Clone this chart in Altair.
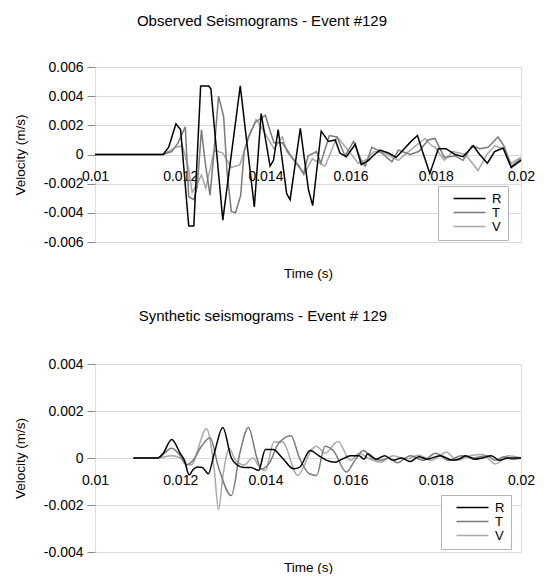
import altair as alt
import pandas as pd

FONT = "Liberation Sans"
SERIES = ["R", "T", "V"]
COLORS = ["#000000", "#7a7a7a", "#a8a8a8"]
X_TICKS = [0.01, 0.012, 0.014, 0.016, 0.018, 0.02]

# ---------------- Observed seismograms (s, m/s) ----------------
obs_R_t = [0.0100, 0.0116, 0.01173, 0.0119, 0.01201, 0.0122, 0.01232, 0.01248, 0.01267, 0.01272,
           0.0130, 0.01341, 0.01374, 0.0139, 0.01411, 0.01419, 0.0143, 0.0145, 0.01458, 0.01482,
           0.01501, 0.01511, 0.01531, 0.01548, 0.01564, 0.01575, 0.0159, 0.01611, 0.01625, 0.01642,
           0.01656, 0.01669, 0.01689, 0.01707, 0.01742, 0.01757, 0.0177, 0.01786, 0.01806, 0.01824,
           0.01845, 0.01864, 0.01888, 0.01903, 0.01921, 0.01938, 0.01958, 0.01977, 0.0200]
obs_R_v = [0.0, 0.0, 0.0005, 0.0021, 0.0017, -0.0049, -0.0049, 0.0047, 0.0047, 0.0045,
           -0.0045, 0.0047, -0.0036, 0.0028, -0.0008, -0.0004, 0.0017, -0.0027, -0.0031, 0.0018,
           -0.0024, -0.0035, 0.0016, 0.0009, 0.0010, 0.0001, -0.00015, 0.0007, -0.0007, -0.0004,
           0.0, 0.0003, 0.0001, -0.0002, 0.0009, 0.0013, 0.0001, -0.0013, 0.0004, 0.0004,
           0.0, -0.00015, 0.0006, 0.0, -0.0006, 0.0002, 0.00045, -0.0009, -0.0004]

obs_T_t = [0.0100, 0.0116, 0.0118, 0.01195, 0.01212, 0.0122, 0.01232, 0.0124, 0.0125, 0.01258,
           0.0127, 0.0128, 0.0129, 0.01302, 0.0131, 0.0132, 0.0133, 0.01342, 0.0135, 0.0136,
           0.01376, 0.0140, 0.01408, 0.0142, 0.0144, 0.0146, 0.0149, 0.0150, 0.0152, 0.0153,
           0.0155, 0.01568, 0.01587, 0.01607, 0.01625, 0.01634, 0.0165, 0.0167, 0.01697, 0.01712,
           0.0174, 0.0176, 0.01782, 0.01798, 0.0182, 0.01845, 0.01864, 0.01885, 0.01903, 0.01923,
           0.01946, 0.0196, 0.01977, 0.0200]
obs_T_v = [0.0, 0.0, 0.0002, 0.0008, 0.0019, -0.0029, -0.0031, -0.0022, 0.0017, -0.0004,
           -0.0028, 0.0004, 0.0040, 0.0026, -0.0012, -0.0039, -0.0040, -0.0028, 0.0002, 0.0012,
           0.0022, 0.0027, 0.0019, 0.0008, 0.0008, -0.0001, -0.0013, -0.0001, 0.0002, -0.0006,
           0.0013, 0.0012, -0.0001, 0.0009, -0.0004, -0.0008, 0.0005, 0.0002, -0.0005, 0.0003,
           0.0, 0.0002, 0.0010, 0.0011, -0.0002, -0.0001, -0.0004, 0.0006, 0.0004, 0.0005,
           0.0012, 0.0006, -0.0008, -0.0003]

obs_V_t = [0.0100, 0.0116, 0.0119, 0.01205, 0.0122, 0.01228, 0.0124, 0.0125, 0.0126, 0.0128,
           0.0130, 0.0132, 0.0134, 0.0136, 0.01378, 0.0139, 0.0142, 0.0144, 0.0145, 0.0148,
           0.0149, 0.0151, 0.0154, 0.01568, 0.0158, 0.01618, 0.0164, 0.01654, 0.0168, 0.01712,
           0.0174, 0.01775, 0.0179, 0.01798, 0.0182, 0.0184, 0.0187, 0.01899, 0.0192, 0.01938,
           0.0196, 0.01977, 0.0200]
obs_V_v = [0.0, 0.0, 0.0005, 0.0006, -0.0010, -0.0026, -0.0020, -0.0014, -0.0023, 0.0003,
           0.0001, -0.0009, -0.0007, 0.0011, 0.0024, 0.0019, 0.0004, 0.0012, 0.0002, -0.0008,
           -0.0014, -0.0003, -0.0008, 0.0012, 0.0008, -0.0006, -0.0003, 0.0002, 0.0001, -0.0004,
           0.0003, 0.0011, 0.0006, 0.0005, -0.0004, 0.0002, 0.0, -0.0011, 0.0, 0.0006,
           0.0004, -0.0006, -0.0002]

# ---------------- Synthetic seismograms (s, m/s) ----------------
syn_R_t = [0.0109, 0.01147, 0.0116, 0.0118, 0.0120, 0.0121, 0.01221, 0.0123, 0.0124, 0.01252,
           0.01266, 0.0128, 0.0130, 0.0132, 0.01334, 0.0135, 0.01366, 0.01384, 0.0140, 0.01418,
           0.0144, 0.01466, 0.0148, 0.01505, 0.01525, 0.01544, 0.01564, 0.0158, 0.0160, 0.0162,
           0.01632, 0.0164, 0.0166, 0.0168, 0.0170, 0.0172, 0.0174, 0.0176, 0.0178, 0.0181,
           0.0184, 0.0186, 0.0187, 0.0189, 0.0191, 0.0193, 0.0195, 0.0197, 0.0200]
syn_R_v = [0.0, 0.0, 0.0002, 0.00079, 0.0002, -0.0001, -0.00072, -0.0005, -0.00038, -0.0004,
           -0.00067, 0.0002, 0.0013, 0.0, -0.0003, -0.0004, -0.0004, -0.00053, 0.00036, 0.00036,
           0.0, -0.00046, -0.0004, 0.00032, 0.0001, -0.0001, -0.00018, -0.00005, 0.0001, 0.0001,
           -0.00005, 0.00018, -0.00005, 0.0001, -0.0001, 0.0, -0.00015, 0.00005, -0.00005, 0.0001,
           -0.0001, 0.0, 0.0001, -0.00005, 0.0, 0.0001, -0.0001, 0.0, 0.0]

syn_T_t = [0.0109, 0.01147, 0.0118, 0.0120, 0.01215, 0.0123, 0.0125, 0.0127, 0.0129, 0.0132,
           0.0134, 0.0136, 0.0138, 0.0139, 0.0141, 0.0143, 0.0146, 0.0148, 0.01503, 0.0152,
           0.0154, 0.0156, 0.0159, 0.0161, 0.0163, 0.0165, 0.0167, 0.0169, 0.0171, 0.0174,
           0.0177, 0.0180, 0.0183, 0.0186, 0.0189, 0.0192, 0.0194, 0.0196, 0.0198, 0.0200]
syn_T_v = [0.0, 0.0, 0.00042, 0.0001, -0.0003, -0.0001, 0.0005, 0.00086, -0.0004, -0.0016,
           0.0002, 0.0013, 0.0, -0.00047, -0.0002, 0.0006, 0.00095, 0.0, -0.00067, -0.00074,
           0.0005, 0.0003, -0.0006, -0.0001, 0.00032, 0.0, -0.0001, 0.0, -0.0002, 0.0001,
           -0.0001, 0.0002, -0.0001, 0.0001, 0.0, 0.0001, -0.0001, 0.00005, -0.00005, 0.0]

syn_V_t = [0.0109, 0.01147, 0.0118, 0.0120, 0.0121, 0.01225, 0.01262, 0.0128, 0.0129, 0.0130,
           0.01315, 0.0133, 0.0135, 0.0137, 0.0139, 0.0140, 0.0142, 0.0144, 0.01476, 0.0151,
           0.0152, 0.0154, 0.0157, 0.0160, 0.0162, 0.0164, 0.0167, 0.0170, 0.0173, 0.0176,
           0.0179, 0.01825, 0.0185, 0.0188, 0.0191, 0.0194, 0.0197, 0.0200]
syn_V_v = [0.0, 0.0, 0.0001, 0.0, -0.0002, -0.0003, 0.00124, -0.0005, -0.0022, -0.0008,
           0.0004, -0.0001, -0.0003, 0.0, -0.00047, -0.00053, 0.00068, 0.00068, -0.00074, 0.0004,
           0.0005, 0.0002, 0.0007, -0.0001, 0.0002, 0.0, -0.00018, 0.0001, -0.00005, 0.00012,
           -0.0001, 0.00025, -0.0001, 0.0001, 0.00015, -0.00025, 0.0001, 0.0]


def long_frame(parts):
    rows = []
    for name, ts, vs in parts:
        for t, v in zip(ts, vs):
            rows.append({"t": t, "v": v, "s": name})
    return pd.DataFrame(rows)


obs_df = long_frame([("V", obs_V_t, obs_V_v), ("T", obs_T_t, obs_T_v), ("R", obs_R_t, obs_R_v)])
syn_df = long_frame([("V", syn_V_t, syn_V_v), ("T", syn_T_t, syn_T_v), ("R", syn_R_t, syn_R_v)])

W = 426
TICK_FS = 14
AXTITLE_FS = 13.5
TITLE_FS = 15


def panel(df, title, ymax, step, height, interp, leg_x, leg_y, title_dx, title_off, xtitle_gap):
    n = int(round(2 * ymax / step))
    y_vals = [round(-ymax + i * step, 4) for i in range(n + 1)]
    color = alt.Color(
        "s:N",
        scale=alt.Scale(domain=SERIES, range=COLORS),
        legend=alt.Legend(
            title=None, orient="none", legendX=leg_x, legendY=leg_y,
            symbolType="M0.6,0H7", symbolSize=100, symbolStrokeWidth=1.5,
            labelFont=FONT, labelFontSize=13, labelColor="#000000", labelOffset=35,
            strokeColor="#b4b4b4", fillColor="#ffffff", padding=6,
            rowPadding=0,
        ),
    )
    x = alt.X(
        "t:Q",
        scale=alt.Scale(domain=[0.01, 0.02], nice=False, zero=False),
        axis=alt.Axis(
            values=X_TICKS, format=".3~f", title="Time (s)", offset=-height / 2,
            labelFlush=False, labelOverlap=False, ticks=False, domain=False, grid=False,
            labelPadding=15, labelFont=FONT, labelFontSize=TICK_FS, labelColor="#000000",
            titleFont=FONT, titleFontSize=AXTITLE_FS, titleFontWeight="normal", titleColor="#000000",
            titleY=height / 2 + xtitle_gap, titleBaseline="middle",
        ),
    )
    y = alt.Y(
        "v:Q",
        scale=alt.Scale(domain=[-ymax, ymax], nice=False, zero=False),
        axis=alt.Axis(
            values=y_vals,
            labelExpr="replace(format(datum.value, '.3~f'), '\u2212', '-')",
            title="Velocity (m/s)", tickSize=8, tickColor="#888888", domain=False,
            gridColor="#d9d9d9", gridWidth=1, labelPadding=4,
            labelFont=FONT, labelFontSize=TICK_FS, labelColor="#000000",
            titleFont=FONT, titleFontSize=AXTITLE_FS, titleFontWeight="normal", titleColor="#000000",
            titlePadding=16,
        ),
    )
    return (
        alt.Chart(df)
        .mark_line(strokeWidth=1.5, interpolate=interp)
        .encode(x=x, y=y, color=color, detail="s:N")
        .properties(
            width=W, height=height,
            title=alt.TitleParams(
                title, font=FONT, fontSize=TITLE_FS, fontWeight="normal", color="#000000",
                anchor="middle", frame="bounds", offset=title_off, dx=title_dx,
            ),
        )
    )


top = panel(obs_df, "Observed Seismograms - Event #129", 0.006, 0.002, 175, "linear",
            343, 119, -12, 31, 31)
bottom = panel(syn_df, "Synthetic seismograms - Event # 129", 0.004, 0.002, 188, "monotone",
               346, 131, -11, 33, 15)

chart = (
    alt.vconcat(top, bottom, spacing=28)
    .resolve_scale(color="independent")
    .resolve_legend(color="independent")
    .configure_view(stroke="#8a8a8a", strokeWidth=1.2)
    .configure(padding={"left": 4, "top": 5, "right": 0, "bottom": 0})
)

chart.save("out.html", embed_options={"renderer": "svg", "actions": False})
